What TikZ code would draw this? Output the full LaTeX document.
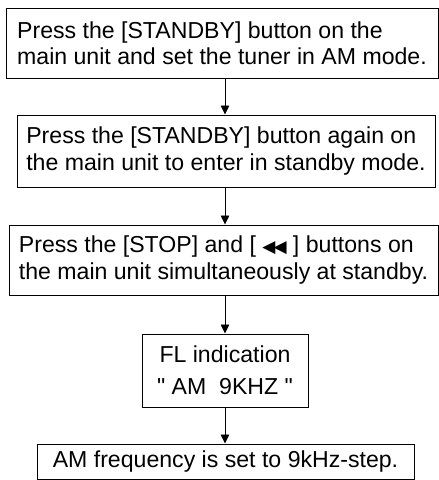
\documentclass[tikz,border=0pt]{standalone}
\usepackage{fontspec}
\setmainfont{Liberation Sans}[Ligatures=TeXOff]
\newfontfamily\djv{DejaVu Sans}
\usetikzlibrary{arrows.meta}
\newcommand{\rewsym}{{\djv\fontsize{17}{17}\selectfont ◀\kern-2pt◀}}
\begin{document}
\begin{tikzpicture}[x=1pt,y=1pt,
  stepbox/.style={draw=black, line width=1pt, inner sep=0pt, align=left,
    font={\fontsize{23.1}{27}\selectfont}},
  flow/.style={line width=0.8pt, -{Triangle[length=9pt,width=8.5pt]}}]
\useasboundingbox (0,0) rectangle (439,-480);
\node[stepbox, minimum width=432pt, minimum height=70pt,
  font={\fontsize{23.1}{25.6}\selectfont}] (b1) at (222,-43)
  {Press the [STANDBY] button on the\\main unit and set the tuner in AM mode.};
\node[stepbox, minimum width=418pt, minimum height=72pt] (b2) at (226,-151)
  {Press the [STANDBY] button again on\\the main unit to enter in standby mode.};
\node[stepbox, minimum width=429pt, minimum height=70pt] (b3) at (223.5,-260)
  {Press the [STOP] and [ \rewsym\ ] buttons on\\the main unit simultaneously at standby.};
\node[stepbox, align=center, minimum width=166pt, minimum height=73pt,
  font={\fontsize{23.1}{32}\selectfont}] (b4) at (225,-370.5)
  {FL indication\\" AM\ \ 9KHZ "};
\node[stepbox, minimum width=377pt, minimum height=35pt] (b5) at (225.5,-461.5)
  {AM frequency is set to 9kHz-step.};
\draw[flow] (b1.south -| b4.center) -- (b2.north -| b4.center);
\draw[flow] (b2.south -| b4.center) -- (b3.north -| b4.center);
\draw[flow] (b3.south -| b4.center) -- (b4.north);
\draw[flow] (b4.south) -- (b5.north -| b4.center);
\end{tikzpicture}
\end{document}
